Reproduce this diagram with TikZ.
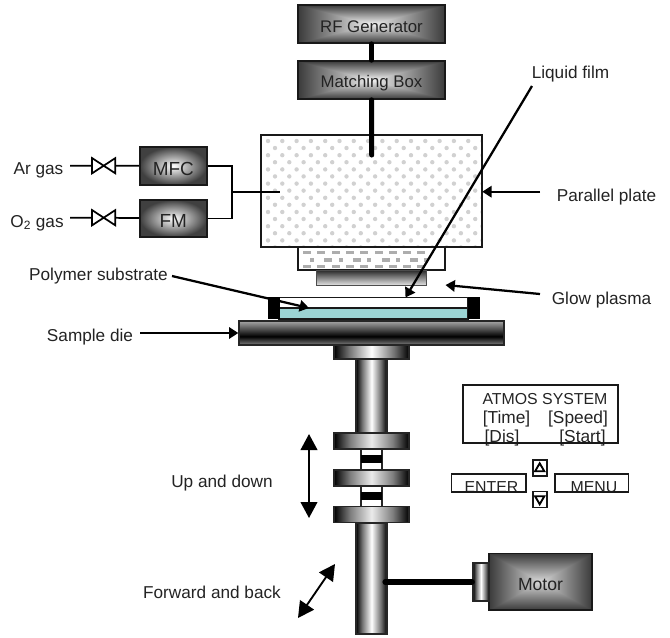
\documentclass[tikz,border=0pt]{standalone}
\usepackage{fontspec}
\setmainfont{Liberation Sans}
\usetikzlibrary{arrows.meta, positioning, shapes.geometric}
\definecolor{filmteal}{RGB}{155, 211, 211}
\definecolor{inktext}{RGB}{35, 35, 35}
\newcommand{\sunk}[1]{\raisebox{-2.2pt}[\height][\depth]{#1}}
\pgfdeclarefunctionalshading{boxfade}{\pgfpoint{-50bp}{-50bp}}{\pgfpoint{50bp}{50bp}}{}{
  abs exch abs 2 copy lt {exch} if pop 25 div dup 1 gt {pop 1} if 0.72 mul 0.95 exch sub dup dup
}
\pgfdeclarefunctionalshading{motorfade}{\pgfpoint{-50bp}{-50bp}}{\pgfpoint{50bp}{50bp}}{}{
  abs exch abs 2 copy lt {exch} if pop 25 div dup 1 gt {pop 1} if 0.62 mul 0.85 exch sub dup dup
}
\pgfdeclarehorizontalshading{cylfade}{100bp}{color(0bp)=(black); color(25bp)=(black); color(35bp)=(black!55); color(50bp)=(white); color(65bp)=(black!55); color(75bp)=(black); color(100bp)=(black)}
\pgfdeclarehorizontalshading{collarfade}{100bp}{color(0bp)=(black); color(25bp)=(black); color(36bp)=(black!50); color(50bp)=(black!8); color(64bp)=(black!50); color(75bp)=(black); color(100bp)=(black)}
\pgfdeclareverticalshading{diefade}{100bp}{color(0bp)=(black!50); color(25bp)=(black!50); color(43bp)=(black); color(75bp)=(black!35); color(100bp)=(black!35)}

\begin{document}
\begin{tikzpicture}[
        x=0.75pt, y=-0.75pt,
        wh/.style 2 args={minimum width=#1*0.75pt, minimum height=#2*0.75pt, inner sep=0pt},
        box/.style={draw=black!90, line width=1.3pt, text=inktext, align=center},
        genbox/.style={box, shading=boxfade, font=\fontsize{12.6}{15}\selectfont},
        gasbox/.style={box, inner color=white, outer color=black!75, font=\fontsize{14.2}{17}\selectfont},
        dotbox/.style={draw=black!90, line width=1.3pt},
        plainbox/.style={draw=black!90, line width=1.3pt, fill=white},
        cyl/.style={draw=black!85, line width=1.1pt, shading=cylfade},
        collar/.style={draw=black!85, line width=0.9pt, shading=collarfade},
        valve/.style={inner sep=0pt, minimum width=17pt, minimum height=11pt},
        lbl/.style={inner sep=0pt, text=inktext, text height=9pt, text depth=0pt, font=\fontsize{12.9}{15}\selectfont},
        paneltxt/.style={inner sep=0pt, text=inktext, font=\fontsize{11.9}{14}\selectfont},
        keytxt/.style={paneltxt, font=\fontsize{13}{15}\selectfont},
        keytri/.style={draw=black, line width=1.4pt, fill=white, regular polygon, regular polygon sides=3, inner sep=0pt, minimum size=8pt},
        heavy/.style={line width=3.8pt, line cap=round},
        pipe/.style={line width=1.3pt},
        arrow/.style={-{Triangle[length=7pt, width=8.5pt]}, line width=1.7pt},
        bigarrow/.style={{Triangle[length=12pt, width=12.5pt]}-{Triangle[length=12pt, width=12.5pt]}, line width=1.4pt},
    ]
        \useasboundingbox (0,0) rectangle (670,637);

        % chamber
        \node[genbox, wh={147}{38}] (rf) at (371.5,24) {\sunk{RF Generator}};
        \node[genbox, wh={147}{38}] (match) at (371.5,80) {\sunk{Matching Box}};
        \node[wh={221}{112}] (plate) at (371.5,191) {};
        \begin{scope}
            \clip (plate.north west) rectangle (plate.south east);
            \foreach \i in {0,...,15}
                \foreach \j in {0,...,8} {
                    \fill[black!18] (268+\i*14.3,141+\j*14.2) circle (2.2);
                    \fill[black!18] (275+\i*14.3,148+\j*14.2) circle (2.2);
                }
        \end{scope}
        \node[dotbox, wh={221}{112}] (plateedge) at (371.5,191) {};
        \node[dotbox, wh={147}{23}] (lower) at (371.5,258.5) {};
        \foreach \i in {0,...,8} {
            \fill[black!32] (303+\i*14.3,251) rectangle ++(8,3.2);
            \fill[black!32] (310+\i*14.3,258.3) rectangle ++({4+4*mod(\i,2)},3.2);
            \fill[black!32] (303+\i*14.3,265) rectangle ++(8,3.2);
        }
        \node[draw=black!70, line width=0.7pt, top color=black!85, bottom color=black!12, wh={110}{15}] (electrode) at (371.7,277.5) {};

        % sample
        \node[draw=black!90, line width=0.9pt, fill=white, wh={189}{11}] (gap) at (373.5,303) {};
        \node[draw=black!90, line width=0.9pt, fill=filmteal, wh={189}{11}] (film) at (373.5,313.5) {};
        \node[fill=black, wh={12}{22}] (clampl) at (273.5,308) {};
        \node[fill=black, wh={12}{22}] (clampr) at (474,308) {};
        \node[draw=black!85, line width=1pt, shading=diefade, wh={265}{24}] (die) at (371.5,333) {};

        % shaft
        \node[cyl, wh={75}{14}] (neck) at (371.5,352) {};
        \node[cyl, wh={31}{74}] (shaftup) at (371.5,396) {};
        \node[draw=black!85, line width=0.9pt, fill=white, wh={21}{21}] (linka) at (371.5,459.5) {};
        \node[fill=black, wh={21}{7.5}] (banda) at (371.5,459) {};
        \node[draw=black!85, line width=0.9pt, fill=white, wh={21}{21}] (linkb) at (371.5,496.5) {};
        \node[fill=black, wh={21}{7.5}] (bandb) at (371.5,496) {};
        \node[collar, wh={75}{16}] (collara) at (371.5,441) {};
        \node[collar, wh={75}{16}] (collarb) at (371.5,478) {};
        \node[collar, wh={75}{16}] (collarc) at (371.5,514.7) {};
        \node[cyl, wh={31}{111}] (shaftlow) at (371.5,578.5) {};

        % motor
        \node[box, shading=motorfade, wh={103}{56.5}, font=\fontsize{13.2}{15}\selectfont] (motor) at (540.5,581.7) {\sunk{Motor}};
        \node[cyl, wh={16}{38}] (coupler) at (481,582) {};
        \coordinate (shaftin) at (385,582);
        \draw[heavy] (shaftin) -- (coupler);

        % rf feed
        \coordinate (feed) at (371.7,155);
        \draw[heavy] (rf) -- (match);
        \draw[heavy] (match) -- (feed);

        % gas lines
        \node[lbl] (ar) at (38.5,168) {Ar gas};
        \node[lbl] (otwo) at (37,221) {O\textsubscript{2} gas};
        \coordinate (arin) at (70,165.7);
        \coordinate (otwoin) at (70,217.7);
        \node[valve] (valvea) at (103.7,165.7) {};
        \node[valve] (valveb) at (103.7,217.7) {};
        \node[gasbox, wh={66.7}{38}] (mfc) at (173.3,166) {\sunk{MFC}};
        \node[gasbox, wh={66.7}{37}] (fm) at (173.3,218.5) {\sunk{FM}};
        \draw[pipe] (arin) -- (valvea) -- (mfc);
        \draw[pipe] (otwoin) -- (valveb) -- (fm);
        \draw[pipe, fill=white] (valvea.north west) -- (valvea.south east) -- (valvea.north east) -- (valvea.south west) -- cycle;
        \draw[pipe, fill=white] (valveb.north west) -- (valveb.south east) -- (valveb.north east) -- (valveb.south west) -- cycle;
        \coordinate (joint) at (232,191.7);
        \coordinate (gasend) at (280,191.7);
        \draw[pipe] (mfc.east) -| (joint);
        \draw[pipe] (fm.east) -| (joint);
        \draw[pipe] (joint) -- (gasend);

        % labels with pointers
        \node[lbl] (liquid) at (570.5,72) {Liquid film};
        \node[lbl] (parallel) at (606.5,195) {Parallel plate};
        \node[lbl] (glow) at (601.5,298) {Glow plasma};
        \node[lbl] (polymer) at (98.5,274) {Polymer substrate};
        \node[lbl] (sample) at (90,335) {Sample die};
        \node[lbl] (updown) at (222,481) {Up and down};
        \node[lbl] (fwdback) at (212,592) {Forward and back};
        \coordinate (liquidout) at (532,86);
        \coordinate (liquidtip) at (405.5,297.5);
        \coordinate (parallelout) at (540,191.7);
        \coordinate (gloout) at (540,294);
        \coordinate (glowtip) at (445.5,285);
        \coordinate (polyout) at (172,276);
        \coordinate (polytip) at (309,308);
        \coordinate (sampleout) at (140,333);
        \draw[arrow] (liquidout) -- (liquidtip);
        \draw[arrow] (parallelout) -- (plate.east |- parallelout);
        \draw[arrow] (gloout) -- (glowtip);
        \draw[arrow] (polyout) -- (polytip);
        \draw[arrow] (sampleout) -- (die.west |- sampleout);

        % motion arrows
        \coordinate (upa) at (309,434);
        \coordinate (upb) at (309,518);
        \coordinate (fwa) at (298,618);
        \coordinate (fwb) at (335,564);
        \draw[bigarrow] (upa) -- (upb);
        \draw[bigarrow] (fwa) -- (fwb);

        % control panel
        \node[paneltxt] (atmos) at (545,399) {ATMOS SYSTEM};
        \node[keytxt] (timekey) at (506.5,419) {[Time]};
        \node[keytxt] (speedkey) at (578,419) {[Speed]};
        \node[keytxt] (diskey) at (502,438) {[Dis]};
        \node[keytxt] (startkey) at (582.5,438) {[Start]};
        \node[draw=black!90, line width=1.3pt, wh={154.7}{58}] (panel) at (540.3,414) {};
        \node[paneltxt] (entertxt) at (491.5,487) {ENTER};
        \node[paneltxt] (menutxt) at (594,487) {MENU};
        \node[draw=black!90, line width=1.2pt, wh={74.3}{18}] (enter) at (488.8,483) {};
        \node[draw=black!90, line width=1.2pt, wh={73.7}{18}] (menu) at (591.8,483) {};
        \node[plainbox, wh={14}{16}] (upkey) at (539.7,468) {};
        \node[plainbox, wh={14}{16}] (downkey) at (539.7,499.5) {};
        \node[keytri] (uptri) at (539.7,468.6) {};
        \node[keytri, shape border rotate=180] (downtri) at (539.7,498.9) {};
    \end{tikzpicture}
\end{document}
